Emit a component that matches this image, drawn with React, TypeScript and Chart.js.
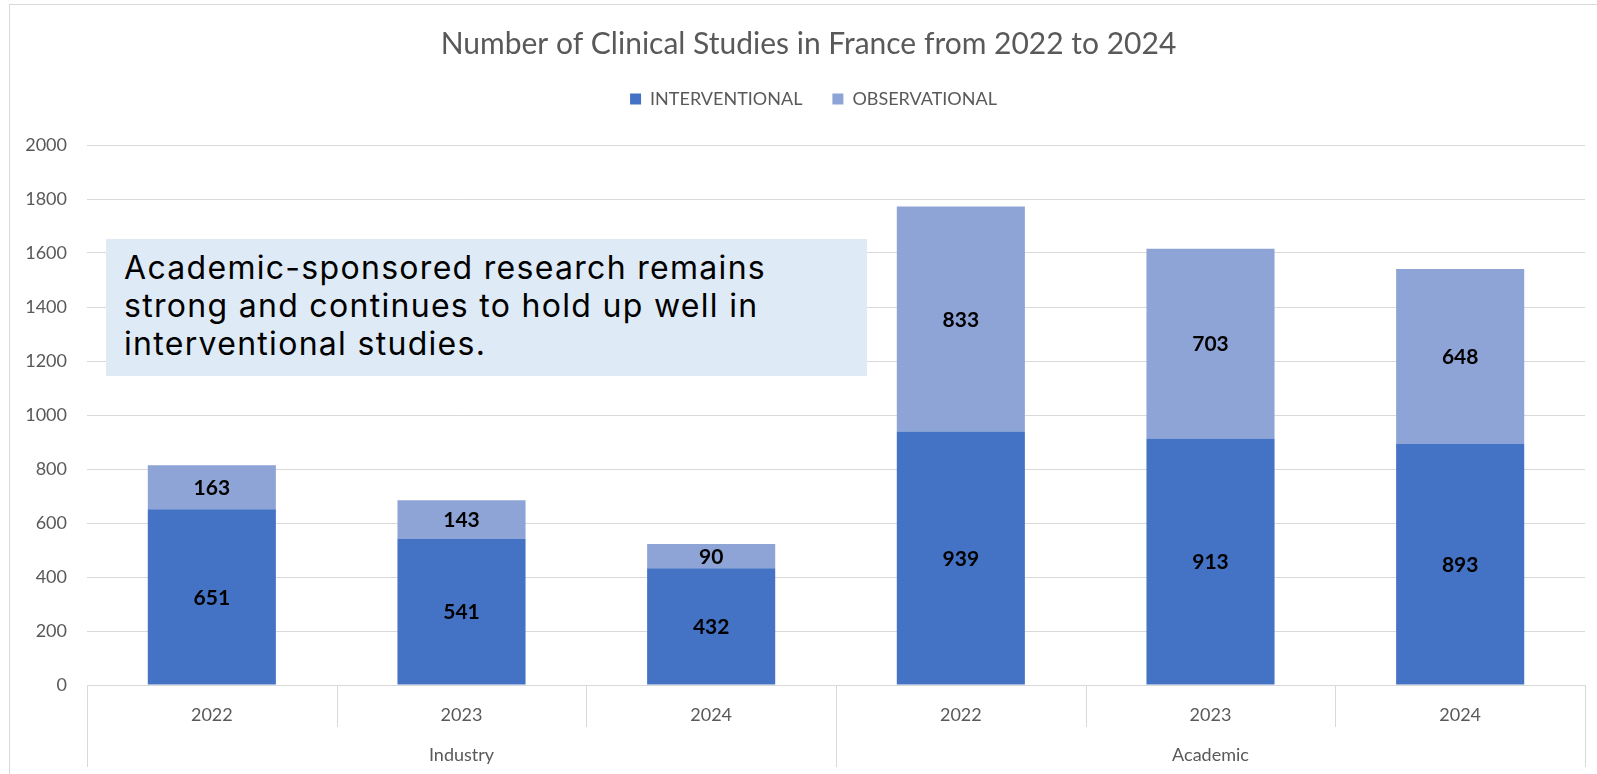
import React, { useEffect, useRef } from 'react';
import { Chart, registerables } from 'chart.js';

Chart.register(...registerables);

const chartTitle = 'Number of Clinical Studies in France from 2022 to 2024';
const categories = ['2022', '2023', '2024', '2022', '2023', '2024'];
const groups = ['Industry', 'Academic'];
const groupSize = 3;
const seriesNames = ['INTERVENTIONAL', 'OBSERVATIONAL'];
const interventional = [651, 541, 432, 939, 913, 893];
const observational = [163, 143, 90, 833, 703, 648];
const yMin = 0;
const yMax = 2000;
const yStep = 200;
const noteLines = [
  'Academic-sponsored research remains',
  'strong and continues to hold up well in',
  'interventional studies.',
];

const COLORS = ['#4472C4', '#8FA4D6'];
const GRID = '#D9D9D9';
const TEXT = '#595959';
const FONT = 'Lato';

const TITLE_DX = 11.5;
const LEGEND_DX = 16.5;
const LEGEND_DY = -27;

const layoutTweak = {
  id: 'layoutTweak',
  afterLayout(chart: any) {
    const l = chart.legend;
    if (l) {
      l.left += LEGEND_DX;
      l.right += LEGEND_DX;
      l.top += LEGEND_DY;
      l.bottom += LEGEND_DY;
    }
    const t = chart.titleBlock;
    if (t) {
      t.left += TITLE_DX;
      t.right += TITLE_DX;
    }
  },
};

const valueLabels = {
  id: 'valueLabels',
  afterDatasetsDraw(chart: any) {
    const ctx = chart.ctx;
    ctx.save();
    ctx.font = `bold 21px ${FONT}`;
    ctx.fillStyle = '#000000';
    ctx.textAlign = 'center';
    ctx.textBaseline = 'middle';
    chart.data.datasets.forEach((ds: any, di: number) => {
      const meta = chart.getDatasetMeta(di);
      meta.data.forEach((el: any, i: number) => {
        const p = el.getProps(['x', 'y', 'base'], true);
        ctx.fillText(String(ds.data[i]), p.x, (p.y + p.base) / 2 + 1);
      });
    });
    ctx.restore();
  },
};

const groupAxis = {
  id: 'groupAxis',
  afterDraw(chart: any) {
    const xs = chart.scales.x;
    const ctx = chart.ctx;
    const top = chart.chartArea.bottom;
    ctx.save();
    ctx.strokeStyle = GRID;
    ctx.lineWidth = 1;
    for (let i = 0; i <= categories.length; i++) {
      const x = Math.round(xs.getPixelForValue(i - 0.5)) + 0.5;
      const long = i % groupSize === 0;
      ctx.beginPath();
      ctx.moveTo(x, top);
      ctx.lineTo(x, top + (long ? 82 : 42));
      ctx.stroke();
    }
    ctx.font = `18px ${FONT}`;
    ctx.fillStyle = TEXT;
    ctx.textAlign = 'center';
    ctx.textBaseline = 'middle';
    groups.forEach((g, gi) => {
      const a = xs.getPixelForValue(gi * groupSize - 0.5);
      const b = xs.getPixelForValue((gi + 1) * groupSize - 0.5);
      ctx.fillText(g, (a + b) / 2, top + 70);
    });
    ctx.restore();
  },
};

export default function App() {
  const ref = useRef<HTMLCanvasElement | null>(null);

  useEffect(() => {
    if (!ref.current) return;
    const chart = new Chart(ref.current, {
      type: 'bar',
      data: {
        labels: categories,
        datasets: [
          {
            label: seriesNames[0],
            data: interventional,
            backgroundColor: COLORS[0],
            barPercentage: 0.513,
            categoryPercentage: 1,
          },
          {
            label: seriesNames[1],
            data: observational,
            backgroundColor: COLORS[1],
            barPercentage: 0.513,
            categoryPercentage: 1,
          },
        ],
      },
      options: {
        responsive: false,
        animation: false,
        devicePixelRatio: 1,
        layout: { padding: { top: 0, left: 0, right: 24, bottom: 0 } },
        plugins: {
          title: {
            display: true,
            text: chartTitle,
            color: TEXT,
            font: { family: FONT, size: 30, weight: 'normal' },
            padding: { top: 22, bottom: 25 },
          },
          legend: {
            display: true,
            position: 'top',
            labels: {
              boxWidth: 11,
              boxHeight: 11,
              padding: 30,
              color: TEXT,
              font: { family: FONT, size: 18 },
            },
          },
          tooltip: { enabled: false },
        },
        scales: {
          x: {
            stacked: true,
            grid: { display: false, drawTicks: false },
            border: { display: true, color: GRID, width: 1 },
            ticks: {
              color: TEXT,
              font: { family: FONT, size: 18 },
              padding: 19,
              maxRotation: 0,
            },
            afterFit(scale: any) {
              scale.height = 99;
            },
          },
          y: {
            stacked: true,
            min: yMin,
            max: yMax,
            grid: { color: GRID, drawTicks: false },
            border: { display: false },
            ticks: {
              stepSize: yStep,
              color: TEXT,
              font: { family: FONT, size: 18 },
              padding: 20,
              callback: (v: any) => String(v),
            },
            afterFit(scale: any) {
              scale.width = 78;
            },
          },
        },
      },
      plugins: [layoutTweak, valueLabels, groupAxis],
    });
    return () => chart.destroy();
  }, []);

  return (
    <div
      style={{
        position: 'fixed',
        left: 0,
        top: 0,
        width: 1597,
        height: 774,
        overflow: 'hidden',
        background: '#FFFFFF',
      }}
    >
      <canvas
        ref={ref}
        width={1600}
        height={780}
        style={{ position: 'absolute', left: 9, top: 4, width: 1600, height: 780 }}
      />
      <div
        style={{
          position: 'absolute',
          left: 9,
          top: 4,
          width: 1600,
          height: 780,
          border: `1px solid ${GRID}`,
          boxSizing: 'border-box',
          pointerEvents: 'none',
        }}
      />
      <div
        style={{
          position: 'absolute',
          left: 106,
          top: 239,
          width: 761,
          height: 137,
          background: '#DEEAF6',
          boxSizing: 'border-box',
          padding: '10px 0 0 18px',
          fontFamily: 'Inter, sans-serif',
          fontSize: 32,
          letterSpacing: '1.3px',
          lineHeight: '38px',
          color: '#000000',
          whiteSpace: 'nowrap',
        }}
      >
        {noteLines.map((line, i) => (
          <div key={i}>{line}</div>
        ))}
      </div>
    </div>
  );
}
